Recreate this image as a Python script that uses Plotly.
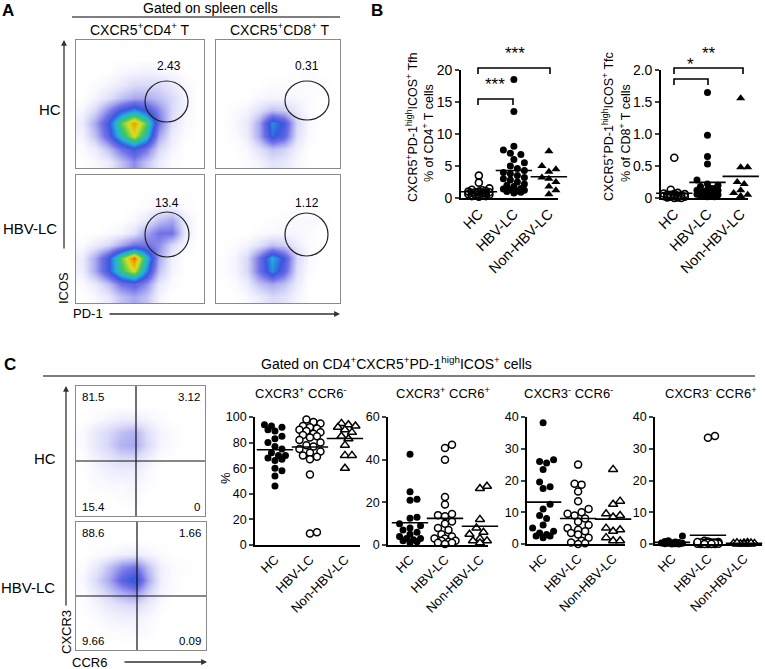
import numpy as np
import plotly.graph_objects as go

W, H = 765, 669
FONT = 'Liberation Sans, Arial, sans-serif'

# ---------------- data ----------------
groups = ['HC', 'HBV-LC', 'Non-HBV-LC']

# panel B: % Tfh of CD4+ T, % Tfc of CD8+ T
tfh_hc = [3.5, 2.4, 1.5, 1.3, 1.2, 1.1, 1.0, 1.0, 0.9, 0.9, 0.8, 0.8, 0.7, 0.6, 0.6, 0.5, 0.5, 0.4, 0.3, 0.3, 0.2]
tfh_hbv = [18.5, 13.5, 8.1, 7.5, 7.0, 6.8, 6.0, 5.5, 5.0, 4.6, 4.3, 4.0, 3.8, 3.5, 3.2, 3.0, 2.8, 2.5,
           2.2, 2.0, 1.8, 1.5, 1.4, 1.3, 1.2, 1.1, 1.0, 0.9, 0.8]
tfh_non = [7.3, 5.0, 4.5, 4.1, 3.2, 3.0, 2.5, 1.8, 1.2, 0.6]
tfh_ticks = [0, 5, 10, 15, 20]
tfh_ticktext = ['0', '5', '10', '15', '20']

tfc_hc = [0.63, 0.13, 0.08, 0.07, 0.06, 0.06, 0.05, 0.05, 0.04, 0.04, 0.03, 0.03, 0.02, 0.02, 0.01, 0.01, 0.0, 0.0]
tfc_hbv = [1.65, 0.98, 0.65, 0.53, 0.28, 0.22, 0.20, 0.18, 0.15, 0.15, 0.13, 0.12, 0.12, 0.10, 0.10, 0.10,
           0.08, 0.08, 0.06, 0.05, 0.05, 0.04, 0.03, 0.02, 0.02]
tfc_non = [1.56, 0.48, 0.48, 0.30, 0.25, 0.22, 0.15, 0.12, 0.08, 0.05, 0.03]
tfc_ticks = [0, 0.5, 1.0, 1.5, 2.0]
tfc_ticktext = ['0', '0.5', '1.0', '1.5', '2.0']

# panel C: subsets of Tfh (%)
c1_hc = [94, 93, 92, 90, 89, 85, 83, 80, 77, 75, 72, 70, 70, 68, 67, 66, 60, 58, 54, 46]
c1_hbv = [98, 96, 95, 93, 92, 91, 90, 89, 88, 87, 86, 85, 84, 82, 80, 78, 77, 75, 73, 72, 70, 69, 67, 55, 9, 10]
c1_non = [95, 94, 93, 92, 90, 88, 85, 83, 78, 70, 70, 60]

c2_hc = [42.5, 25, 21.5, 21, 13, 12.5, 10, 9, 8, 7, 6, 5, 4, 3, 3, 2.5, 2, 1.5, 1]
c2_hbv = [47, 45.5, 40, 22.5, 19, 14.5, 14, 13.5, 11, 10, 8, 7, 5, 4, 3, 3, 2, 2, 1.5, 1, 1, 0.5]
c2_non = [27.5, 26.5, 12, 8, 6, 5, 4, 3, 2, 2, 1]

c3_hc = [38.2, 26.5, 26, 25.5, 23.5, 19.5, 18, 17.5, 12.5, 11, 9, 8, 6, 5, 4, 3.5, 3, 2.5, 2.5, 2]
c3_hbv = [25, 19, 18.7, 16.5, 13.5, 11, 10, 9.5, 9, 8, 7, 6, 5, 4.5, 4, 3.5, 3, 2, 1, 0.5, 0, 0.2]
c3_non = [23.5, 13.5, 12.5, 9.5, 9, 8.5, 5, 4.5, 4, 2, 1, 1]

c4_hc = [2.5, 1.0, 0.8, 0.5, 0.3, 0.2, 0.1, 0.0, 0.0, 0.1, 0.2, 0.4, 0.6]
c4_hbv = [34, 33.5, 1.0, 0.8, 0.6, 0.5, 0.5, 0.4, 0.3, 0.3, 0.2, 0.2, 0.1, 0.1, 0.0, 0.0, 0.0, 0.0,
          0.1, 0.2, 0.3, 0.4, 0.5, 0.6, 0.2, 0.1, 0.0]
c4_non = [0.5, 0.3, 0.2, 0.1, 0.0, 0.0, 0.0, 0.1, 0.2, 0.3, 0.4]

c_ticks_100 = [0, 20, 40, 60, 80, 100]
c_ticks_60 = [0, 20, 40, 60]
c_ticks_40 = [0, 10, 20, 30, 40]

# flow plots: coarse event density (rows top -> bottom, cols left -> right)
flow_hc_cd4 = [
    [0, 0, 0, 0, 0, 0, 0, 0, 0, 0],
    [0, 0, 0, 0, 0, 0, 0, 0, 0, 0],
    [0, 0, 0, 0.2, 0.3, 0.4, 0.3, 0.2, 0, 0],
    [0, 0.1, 0.3, 0.6, 1, 1, 1, 0.6, 0.2, 0],
    [0, 0.3, 0.8, 1.5, 2, 2, 1.5, 1, 0.3, 0],
    [0.2, 1, 2.5, 4, 5, 4, 2.5, 1, 0.3, 0],
    [0.5, 2, 4, 7, 9, 7, 3, 0.8, 0.2, 0],
    [0.3, 1.5, 3.5, 6, 8, 6, 2, 0.5, 0.1, 0],
    [0.1, 0.5, 1.5, 3, 4, 3, 1, 0.3, 0, 0],
    [0, 0.2, 0.5, 1.5, 2.5, 1.5, 0.5, 0.1, 0, 0],
]
flow_hc_cd8 = [
    [0, 0, 0, 0, 0, 0, 0, 0, 0, 0],
    [0, 0, 0, 0, 0, 0, 0, 0, 0, 0],
    [0, 0, 0, 0, 0, 0, 0, 0.1, 0, 0],
    [0, 0, 0, 0, 0.1, 0.1, 0.1, 0.1, 0.1, 0],
    [0, 0, 0, 0.2, 0.3, 0.3, 0.2, 0.1, 0, 0],
    [0, 0.1, 0.3, 0.8, 1.5, 1.2, 0.5, 0.1, 0, 0],
    [0, 0.2, 0.6, 2, 5, 4, 1, 0.2, 0, 0],
    [0, 0.1, 0.5, 2, 4.5, 3.5, 0.8, 0.1, 0, 0],
    [0, 0, 0.2, 0.8, 1.5, 1.2, 0.4, 0, 0, 0],
    [0, 0, 0.1, 0.3, 0.8, 0.6, 0.2, 0, 0, 0],
]
flow_lc_cd4 = [
    [0, 0, 0, 0, 0, 0, 0, 0, 0, 0],
    [0, 0, 0, 0, 0, 0, 0, 0, 0, 0],
    [0, 0, 0, 0, 0, 0.1, 0.3, 0.3, 0.1, 0],
    [0, 0, 0, 0, 0.2, 0.6, 1.5, 2, 0.5, 0],
    [0, 0, 0.1, 0.3, 0.8, 2, 3, 3, 0.6, 0],
    [0.1, 0.5, 1, 2, 3, 3, 2.5, 1, 0.2, 0],
    [0.5, 2, 4, 7, 9.5, 6, 2, 0.4, 0, 0],
    [0.4, 2, 4, 6.5, 8, 5, 1.5, 0.3, 0, 0],
    [0.1, 0.6, 1.5, 3, 3.5, 2.5, 0.6, 0.1, 0, 0],
    [0, 0.2, 0.6, 1.5, 2, 1.5, 0.3, 0, 0, 0],
]
flow_lc_cd8 = [
    [0, 0, 0, 0, 0, 0, 0, 0, 0, 0],
    [0, 0, 0, 0, 0, 0, 0, 0, 0, 0],
    [0, 0, 0, 0, 0, 0, 0.1, 0, 0, 0],
    [0, 0, 0, 0, 0.05, 0.1, 0.2, 0.2, 0.1, 0],
    [0, 0, 0, 0.1, 0.2, 0.3, 0.2, 0.1, 0, 0],
    [0, 0.1, 0.3, 0.8, 1.5, 1.2, 0.5, 0.1, 0, 0],
    [0.05, 0.3, 1, 3, 5.5, 4, 1, 0.2, 0, 0],
    [0.05, 0.3, 1, 3, 5, 3.5, 0.8, 0.1, 0, 0],
    [0, 0.1, 0.5, 1.5, 2, 1.5, 0.5, 0, 0, 0],
    [0, 0, 0.2, 0.5, 1, 0.8, 0.3, 0, 0, 0],
]
flow_c_hc = [
    [0, 0, 0, 0, 0, 0, 0, 0, 0, 0],
    [0, 0, 0, 0, 0, 0, 0, 0, 0, 0],
    [0, 0.1, 0.3, 0.5, 0.5, 0.3, 0.1, 0, 0, 0],
    [0.1, 0.6, 1.0, 1.5, 1.8, 0.9, 0.3, 0.1, 0, 0],
    [0.1, 0.6, 1.1, 1.8, 2.0, 1.0, 0.3, 0.1, 0, 0],
    [0, 0.4, 0.7, 1.0, 1.0, 0.5, 0.1, 0, 0, 0],
    [0, 0.2, 0.4, 0.5, 0.5, 0.2, 0, 0, 0, 0],
    [0, 0.1, 0.2, 0.2, 0.3, 0.1, 0, 0, 0, 0],
    [0, 0, 0, 0.1, 0.2, 0, 0, 0, 0, 0],
    [0, 0, 0, 0, 0, 0, 0, 0, 0, 0],
]
flow_c_lc = [
    [0, 0, 0, 0, 0, 0, 0, 0, 0, 0],
    [0, 0, 0, 0, 0, 0, 0, 0, 0, 0],
    [0, 0.1, 0.2, 0.4, 0.5, 0.3, 0.1, 0, 0, 0],
    [0.1, 0.6, 1.5, 2.5, 3, 1.5, 0.4, 0.1, 0.05, 0],
    [0.2, 1, 2, 3.5, 4.5, 2, 0.4, 0.1, 0, 0],
    [0.1, 0.6, 1.3, 2, 2.5, 1.2, 0.3, 0.05, 0, 0],
    [0.05, 0.3, 0.6, 0.9, 1, 0.5, 0.1, 0, 0, 0],
    [0, 0.1, 0.3, 0.4, 0.4, 0.2, 0, 0, 0, 0],
    [0, 0, 0.1, 0.1, 0.2, 0.1, 0, 0, 0, 0],
    [0, 0, 0, 0, 0, 0, 0, 0, 0, 0],
]
gate_pct_A = ['2.43', '0.31', '13.4', '1.12']
quad_pct_C_hc = ['81.5', '3.12', '15.4', '0']
quad_pct_C_lc = ['88.6', '1.66', '9.66', '0.09']


def fx(px):
    return px / W


def fy(py):
    return 1 - py / H


def swarm(vals, ppu, ppc, d=7.0, cap=12.0):
    # simple deterministic beeswarm, pixel space
    vals = np.asarray(vals, float)
    step = d * 0.5
    cands = [0.0]
    for k in range(1, int(cap // step) + 1):
        cands += [k * step, -k * step]
    placed = []
    offs = np.zeros(len(vals))
    for i in np.argsort(vals):
        y = vals[i] * ppu
        best, best_gap = 0.0, -1.0
        for c in cands:
            gap = min([np.hypot(c - px, y - py) for px, py in placed], default=1e9)
            if gap >= d:
                best = c
                break
            if gap > best_gap:
                best, best_gap = c, gap
        placed.append((best, y))
        offs[i] = best / ppc
    return offs


fig = go.Figure()
layout = {}
annotations = []
shapes = []
k = [0]


def new_axes(box, xr, yr):
    k[0] += 1
    n = k[0]
    xa = 'xaxis' if n == 1 else f'xaxis{n}'
    ya = 'yaxis' if n == 1 else f'yaxis{n}'
    xid = 'x' if n == 1 else f'x{n}'
    yid = 'y' if n == 1 else f'y{n}'
    x0, x1, y0, y1 = box
    layout[xa] = dict(domain=[fx(x0), fx(x1)], range=list(xr), anchor=yid, showgrid=False, zeroline=False,
                      automargin=False)
    layout[ya] = dict(domain=[fy(y1), fy(y0)], range=list(yr), anchor=xid, showgrid=False, zeroline=False,
                      automargin=False)
    return xa, ya, xid, yid


# ---------------- flow dot plots ----------------
flow_cs = [[0.0, '#ffffff'], [0.03, '#f4f4fe'], [0.1, '#dadaf8'], [0.2, '#a8a8f0'], [0.3, '#7070e6'],
           [0.42, '#3a56e0'], [0.55, '#20b0e0'], [0.68, '#40c860'], [0.8, '#d8e020'], [0.9, '#f0a000'],
           [1.0, '#e02000']]
centers = [0.05 + 0.1 * i for i in range(10)]

flow_panels = [
    (flow_hc_cd4, (76, 204, 40, 168)),
    (flow_hc_cd8, (216, 340, 40, 168)),
    (flow_lc_cd4, (76, 204, 175, 303)),
    (flow_lc_cd8, (216, 340, 175, 303)),
    (flow_c_hc, (76, 205, 386, 516)),
    (flow_c_lc, (76, 206, 522, 650)),
]
for grid, box in flow_panels:
    xa, ya, xid, yid = new_axes(box, (0, 1), (0, 1))
    for a in (xa, ya):
        layout[a].update(showline=True, mirror=True, linecolor='#8a8a8a', linewidth=1,
                         showticklabels=False, ticks='')
    fig.add_trace(go.Heatmap(z=grid[::-1], x=centers, y=centers, colorscale=flow_cs, zmin=0, zmax=10,
                             zsmooth='best', showscale=False, hoverinfo='skip', xaxis=xid, yaxis=yid))

# gates (panel A)
gates = [((145, 81, 188, 122), (169, 66)), ((285, 81, 329, 120), (307, 66)),
         ((145, 212, 189, 257), (167, 203)), ((285, 213, 328, 256), (307, 203))]
for (g, lab), txt in zip(gates, gate_pct_A):
    shapes.append(dict(type='circle', xref='paper', yref='paper', x0=fx(g[0]), x1=fx(g[2]),
                       y0=fy(g[3]), y1=fy(g[1]), line=dict(color='#222', width=1.2)))
    annotations.append(dict(x=fx(lab[0]), y=fy(lab[1]), text=txt, font=dict(size=12)))

# quadrants (panel C)
for box, vx, hy, labs in [((76, 205, 386, 516), 136, 461, quad_pct_C_hc),
                          ((76, 206, 522, 650), 137, 596, quad_pct_C_lc)]:
    x0, x1, y0, y1 = box
    shapes.append(dict(type='line', xref='paper', yref='paper', x0=fx(vx), x1=fx(vx), y0=fy(y0), y1=fy(y1),
                       line=dict(color='#111', width=1.2)))
    shapes.append(dict(type='line', xref='paper', yref='paper', x0=fx(x0), x1=fx(x1), y0=fy(hy), y1=fy(hy),
                       line=dict(color='#111', width=1.2)))
    for txt, (px, py, anc) in zip(labs, [(x0 + 4, y0 + 11, 'left'), (x1 - 3, y0 + 11, 'right'),
                                         (x0 + 4, y1 - 9, 'left'), (x1 - 3, y1 - 9, 'right')]):
        annotations.append(dict(x=fx(px), y=fy(py), text=txt, xanchor=anc, font=dict(size=11.5)))

# ---------------- scatter (column) plots ----------------
sty_B = [dict(symbol='circle-open', size=7, color='black', line=dict(width=1.6, color='black')),
         dict(symbol='circle', size=7, color='black', line=dict(width=0)),
         dict(symbol='triangle-up', size=8, color='black', line=dict(width=0))]
sty_C = [dict(symbol='circle', size=7, color='black', line=dict(width=0)),
         dict(symbol='circle', size=7, color='white', line=dict(width=1.5, color='black')),
         dict(symbol='triangle-up', size=8, color='white', line=dict(width=1.5, color='black'))]

scatter_panels = [
    ((461, 558, 70, 198), (-0.51, 2.26), (0, 20), tfh_ticks, tfh_ticktext, [tfh_hc, tfh_hbv, tfh_non], sty_B, 14),
    ((661, 748, 70, 198), (-0.40, 2.22), (0, 2), tfc_ticks, tfc_ticktext, [tfc_hc, tfc_hbv, tfc_non], sty_B, 14),
    ((255, 360, 417, 545), (-0.57, 2.43), (0, 100), c_ticks_100, None, [c1_hc, c1_hbv, c1_non], sty_C, 12.5),
    ((388, 488, 417, 545), (-0.63, 2.23), (0, 60), c_ticks_60, None, [c2_hc, c2_hbv, c2_non], sty_C, 12.5),
    ((527, 625, 417, 544), (-0.46, 2.34), (0, 40), c_ticks_40, None, [c3_hc, c3_hbv, c3_non], sty_C, 12.5),
    ((655, 762, 417, 544), (-0.47, 2.50), (0, 40), c_ticks_40, None, [c4_hc, c4_hbv, c4_non], sty_C, 12.5),
]
for box, xr, yr, tv, tt, series, sty, fs in scatter_panels:
    xa, ya, xid, yid = new_axes(box, xr, yr)
    x0, x1, y0, y1 = box
    ppu = (y1 - y0) / (yr[1] - yr[0])
    ppc = (x1 - x0) / (xr[1] - xr[0])
    layout[xa].update(showline=True, linecolor='black', linewidth=1.6, ticks='', tickvals=[0, 1, 2],
                      ticktext=groups, tickangle=-45, tickfont=dict(size=fs + 0.5))
    layout[ya].update(showline=True, linecolor='black', linewidth=1.6, ticks='outside', ticklen=4,
                      tickwidth=1.6, tickvals=tv, ticktext=tt if tt else [str(v) for v in tv],
                      tickfont=dict(size=fs))
    for i, vals in enumerate(series):
        offs = swarm(vals, ppu, ppc)
        fig.add_trace(go.Scatter(x=i + offs, y=vals, mode='markers', marker=sty[i], cliponaxis=False,
                                 xaxis=xid, yaxis=yid, hoverinfo='y'))
        fig.add_trace(go.Scatter(x=[i], y=[float(np.mean(vals))], mode='markers', cliponaxis=False,
                                 marker=dict(symbol='line-ew', size=26, line=dict(width=1.6, color='black')),
                                 xaxis=xid, yaxis=yid, hoverinfo='y'))

# significance brackets (panel B)
for xl, xr_, yb, star, sx in [(478, 550, 68, '***', 515), (478, 513, 99, '***', 495),
                              (674, 743, 68, '**', 709), (674, 708, 79, '*', 690)]:
    shapes.append(dict(type='path', xref='paper', yref='paper',
                       path=f'M {fx(xl)},{fy(yb + 6)} L {fx(xl)},{fy(yb)} L {fx(xr_)},{fy(yb)} L {fx(xr_)},{fy(yb + 6)}',
                       line=dict(color='black', width=1.6)))
    annotations.append(dict(x=fx(sx), y=fy(yb - 3), text=star, yanchor='bottom', font=dict(size=17)))

# ---------------- texts ----------------
txt = [
    ('<b>A</b>', 8, 11, 17, 0), ('<b>B</b>', 377, 11, 17, 0), ('<b>C</b>', 10, 365, 17, 0),
    ('Gated on spleen cells', 210, 8, 14, 0),
    ('CXCR5<sup>+</sup>CD4<sup>+</sup> T', 140, 29, 14, 0),
    ('CXCR5<sup>+</sup>CD8<sup>+</sup> T', 280, 29, 14, 0),
    ('HC', 50, 110, 15, 0), ('HBV-LC', 30, 229, 15, 0),
    ('ICOS', 63, 288, 13, -90), ('PD-1', 88, 314, 13, 0),
    ('CXCR5<sup>+</sup>PD-1<sup>high</sup>ICOS<sup>+</sup> Tfh', 412, 127, 12.5, -90),
    ('% of CD4<sup>+</sup> T cells', 428, 133, 12.5, -90),
    ('CXCR5<sup>+</sup>PD-1<sup>high</sup>ICOS<sup>+</sup> Tfc', 608, 127, 12.5, -90),
    ('% of CD8<sup>+</sup> T cells', 625, 133, 12.5, -90),
    ('Gated on CD4<sup>+</sup>CXCR5<sup>+</sup>PD-1<sup>high</sup>ICOS<sup>+</sup> cells', 396, 363, 14, 0),
    ('HC', 45, 458, 15, 0), ('HBV-LC', 28, 587, 15, 0),
    ('CXCR3', 66, 632, 13, -90), ('CCR6', 89, 662, 13, 0),
    ('%', 225, 478, 13, -90),
    ('CXCR3<sup>+</sup> CCR6<sup>-</sup>', 300, 393, 13, 0),
    ('CXCR3<sup>+</sup> CCR6<sup>+</sup>', 443, 393, 13, 0),
    ('CXCR3<sup>-</sup> CCR6<sup>-</sup>', 568, 393, 13, 0),
    ('CXCR3<sup>-</sup> CCR6<sup>+</sup>', 710, 393, 13, 0),
]
for t, px, py, size, ang in txt:
    annotations.append(dict(x=fx(px), y=fy(py), text=t, textangle=ang, font=dict(size=size)))

# header rules
for x0, x1, y in [(72, 340, 17), (43, 755, 376)]:
    shapes.append(dict(type='line', xref='paper', yref='paper', x0=fx(x0), x1=fx(x1), y0=fy(y), y1=fy(y),
                       line=dict(color='#555', width=1.5)))

# axis arrows
for hx, hy, ax, ay in [(64, 40, 0, 210), (340, 314, -232, 0), (66, 386, 0, 221), (207, 662, -84, 0)]:
    annotations.append(dict(x=fx(hx), y=fy(hy), text='', showarrow=True, ax=ax, ay=ay, arrowhead=2,
                            arrowsize=0.9, arrowwidth=1.3, arrowcolor='#333'))

for a in annotations:
    a.setdefault('xref', 'paper')
    a.setdefault('yref', 'paper')
    a.setdefault('showarrow', False)
    a.setdefault('xanchor', 'center')
    a.setdefault('yanchor', 'middle')

fig.update_layout(**layout)
fig.update_layout(width=W, height=H, margin=dict(l=0, r=0, t=0, b=0, pad=0, autoexpand=False),
                  showlegend=False, paper_bgcolor='white', plot_bgcolor='white',
                  font=dict(family=FONT, color='black', size=12),
                  annotations=annotations, shapes=shapes)

# the page body has a default 8px margin; drop it so the figure sits at the window's corner
fig.write_html("out.html", config={'displayModeBar': False},
               post_script="document.body.style.margin='0';")
